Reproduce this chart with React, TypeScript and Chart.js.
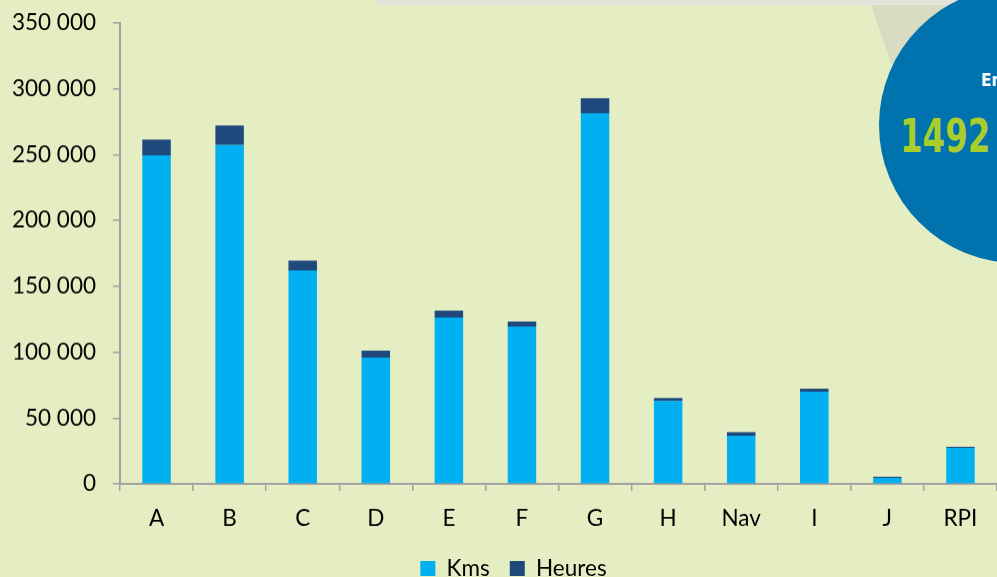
import { useEffect, useRef } from "react";
import { Chart, registerables } from "chart.js";

Chart.register(...registerables);

const categories = ["A", "B", "C", "D", "E", "F", "G", "H", "Nav", "I", "J", "RPI"];
const kms = [249500, 257400, 162000, 95900, 126300, 119500, 281500, 62900, 36500, 70000, 4600, 27400];
const heures = [12000, 14800, 7600, 5300, 5300, 3800, 11400, 2300, 2800, 2300, 800, 800];
const yMax = 350000;
const yStep = 50000;

const FONT = "Lato, 'Noto Sans', sans-serif";

function fmt(v: number) {
  return String(v).replace(/\B(?=(\d{3})+(?!\d))/g, " ");
}

export default function App() {
  const ref = useRef<HTMLCanvasElement | null>(null);

  useEffect(() => {
    document.body.style.margin = "0";
    if (!ref.current) return;
    const chart = new Chart(ref.current, {
      type: "bar",
      data: {
        labels: categories,
        datasets: [
          {
            label: "Kms",
            data: kms,
            backgroundColor: "#00b0f0",
            borderWidth: 0,
            categoryPercentage: 1,
            barPercentage: 0.39,
          },
          {
            label: "Heures",
            data: heures,
            backgroundColor: "#1f497d",
            borderWidth: 0,
            categoryPercentage: 1,
            barPercentage: 0.39,
          },
        ],
      },
      options: {
        animation: false,
        responsive: true,
        maintainAspectRatio: false,
        layout: { padding: { top: 23, right: 0, left: 0, bottom: 0 } },
        plugins: {
          tooltip: { enabled: false },
          legend: {
            position: "bottom",
            labels: {
              boxWidth: 15,
              boxHeight: 15,
              padding: 20,
              color: "#000",
              font: { family: FONT, size: 22.5 },
            },
          },
        },
        scales: {
          x: {
            stacked: true,
            grid: {
              drawOnChartArea: false,
              drawTicks: true,
              tickLength: 7,
              color: "#a0a0a0",
              lineWidth: 1.5,
            },
            border: { color: "#a0a0a0", width: 2 },
            ticks: {
              color: "#000",
              padding: 14,
              font: { family: FONT, size: 22.5 },
              maxRotation: 0,
            },
            afterFit: (s: any) => {
              s.height = 53.25;
              s.paddingLeft = 0;
              s.paddingRight = 0;
            },
          },
          y: {
            stacked: true,
            min: 0,
            max: yMax,
            grid: {
              drawOnChartArea: false,
              drawTicks: true,
              tickLength: 7,
              color: "#a0a0a0",
              lineWidth: 1.5,
            },
            border: { color: "#a0a0a0", width: 2 },
            ticks: {
              stepSize: yStep,
              color: "#000",
              padding: 17,
              font: { family: FONT, size: 22.5 },
              callback: (v: any) => fmt(Number(v)),
            },
            afterFit: (s: any) => {
              s.width = 120;
              s.paddingTop = 0;
              s.paddingBottom = 0;
            },
          },
          yRight: {
            type: "linear",
            position: "right",
            display: true,
            grid: { display: false, drawTicks: false },
            border: { display: false },
            ticks: { display: false },
            afterFit: (s: any) => {
              s.width = 30;
              s.paddingTop = 0;
              s.paddingBottom = 0;
            },
          },
        },
      },
    });
    return () => chart.destroy();
  }, []);

  return (
    <div
      style={{
        position: "fixed",
        left: 0,
        top: 0,
        width: 997,
        height: 577,
        overflow: "hidden",
        background: "#e5eec3",
      }}
    >
      <div style={{ position: "absolute", left: 378, top: 0, width: 619, height: 5, background: "#e3e4dc" }} />
      <div
        style={{
          position: "absolute",
          left: 0,
          top: 0,
          width: 997,
          height: 577,
          background: "#d9dcc3",
          clipPath: "polygon(871px 5px, 997px 5px, 997px 200px, 900px 100px, 895px 75px)",
        }}
      />
      <div
        style={{
          position: "absolute",
          left: 879,
          top: -13,
          width: 276,
          height: 276,
          borderRadius: "50%",
          background: "#0072ae",
        }}
      />
      <div
        style={{
          position: "absolute",
          left: 981,
          top: 70,
          color: "#fff",
          fontWeight: 700,
          fontSize: 17,
          fontFamily: "'DejaVu Sans Condensed', 'DejaVu Sans', sans-serif",
          whiteSpace: "nowrap",
        }}
      >
        En
      </div>
      <div
        style={{
          position: "absolute",
          left: 900,
          top: 108,
          color: "#aacd2e",
          fontWeight: 700,
          fontSize: 47,
          lineHeight: "56px",
          fontFamily: "'DejaVu Sans', sans-serif",
          whiteSpace: "nowrap",
          transform: "scaleX(0.69)",
          transformOrigin: "0 0",
        }}
      >
        1492
      </div>
      <div style={{ position: "absolute", left: 0, top: 0, width: 1027, height: 588.75 }}>
        <canvas ref={ref} />
      </div>
    </div>
  );
}
